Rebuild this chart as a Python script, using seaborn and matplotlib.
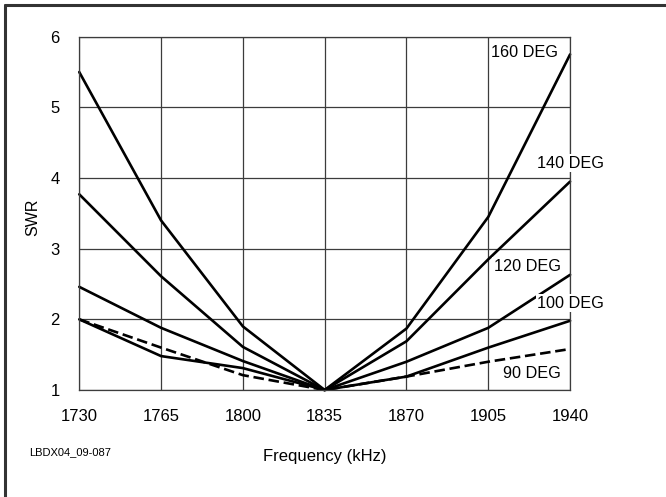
import matplotlib
matplotlib.use("Agg")
import matplotlib.pyplot as plt
from matplotlib.lines import Line2D
import seaborn as sns
import pandas as pd

# Frequency sweep (kHz) and measured SWR for each element angle
freq_khz = [1730, 1765, 1800, 1835, 1870, 1905, 1940]
swr_160 = [5.50, 3.40, 1.90, 1.00, 1.87, 3.45, 5.75]
swr_140 = [3.77, 2.61, 1.61, 1.00, 1.69, 2.85, 3.95]
swr_120 = [2.46, 1.88, 1.41, 1.00, 1.40, 1.88, 2.63]
swr_100 = [2.00, 1.48, 1.31, 1.00, 1.19, 1.60, 1.98]
swr_90 = [2.00, 1.60, 1.21, 1.00, 1.19, 1.40, 1.58]

series_names = ["160 DEG", "140 DEG", "120 DEG", "100 DEG", "90 DEG"]
series_values = [swr_160, swr_140, swr_120, swr_100, swr_90]

y_ticks = [1, 2, 3, 4, 5, 6]

rows = []
for name, vals in zip(series_names, series_values):
    for f, v in zip(freq_khz, vals):
        rows.append({"freq": f, "swr": v, "angle": name})
df = pd.DataFrame(rows)

sns.set_theme(style="white")
plt.rcParams["font.family"] = ["Liberation Sans", "DejaVu Sans"]

fig = plt.figure(figsize=(6.66, 4.97), dpi=100)
ax = fig.add_axes([0.119, 0.2153, 0.737, 0.7108])

grid_col = "#3c3c3c"
ax.set_xlim(freq_khz[0], freq_khz[-1])
ax.set_ylim(y_ticks[0], y_ticks[-1])
ax.set_xticks(freq_khz)
ax.set_yticks(y_ticks)
ax.grid(True, color=grid_col, linewidth=0.9)
ax.set_axisbelow(True)
for s in ax.spines.values():
    s.set_color(grid_col)
    s.set_linewidth(0.9)

palette = {n: "black" for n in series_names}
dashes = {n: "" for n in series_names}
dashes["90 DEG"] = (4, 1.8)
sns.lineplot(data=df, x="freq", y="swr", hue="angle", style="angle",
             palette=palette, dashes=dashes, linewidth=1.9,
             legend=False, ax=ax, clip_on=False)

ax.tick_params(axis="both", length=0, labelsize=12, colors="black")
ax.tick_params(axis="x", pad=14)
ax.tick_params(axis="y", pad=14)
ax.set_xticklabels([str(f) for f in freq_khz])
ax.set_yticklabels([str(t) for t in y_ticks])

ax.set_xlabel("Frequency (kHz)", fontsize=12, color="black")
ax.xaxis.set_label_coords(0.5, -0.168)
ax.set_ylabel("SWR", fontsize=11.5, color="black")
ax.yaxis.set_label_coords(-0.080, 0.49)

# Curve labels, masked by a white box where they cross the frame
box = dict(boxstyle="square,pad=0.1", facecolor="white", edgecolor="none")
label_specs = [
    ("160 DEG", 1935.0, 5.77, "right"),
    ("140 DEG", 1926.0, 4.21, "left"),
    ("120 DEG", 1936.0, 2.75, "right"),
    ("100 DEG", 1926.0, 2.23, "left"),
    ("90 DEG", 1936.0, 1.24, "right"),
]
for text, x, y, ha in label_specs:
    ax.text(x, y, text, ha=ha, va="center", fontsize=11.7, color="black",
            bbox=box, clip_on=False, zorder=5)

fig.text(29 / 666, 1 - 452 / 497, "LBDX04_09-087", fontsize=8,
         ha="left", va="center", color="black")

# Frame along the top and left edges of the figure
fig.add_artist(Line2D([5 / 666, 1.0], [1 - 5 / 497, 1 - 5 / 497],
                      transform=fig.transFigure, color="#333333", linewidth=2.2))
fig.add_artist(Line2D([5 / 666, 5 / 666], [0.0, 1 - 5 / 497],
                      transform=fig.transFigure, color="#333333", linewidth=2.2))

fig.savefig("out.png", dpi=100)
